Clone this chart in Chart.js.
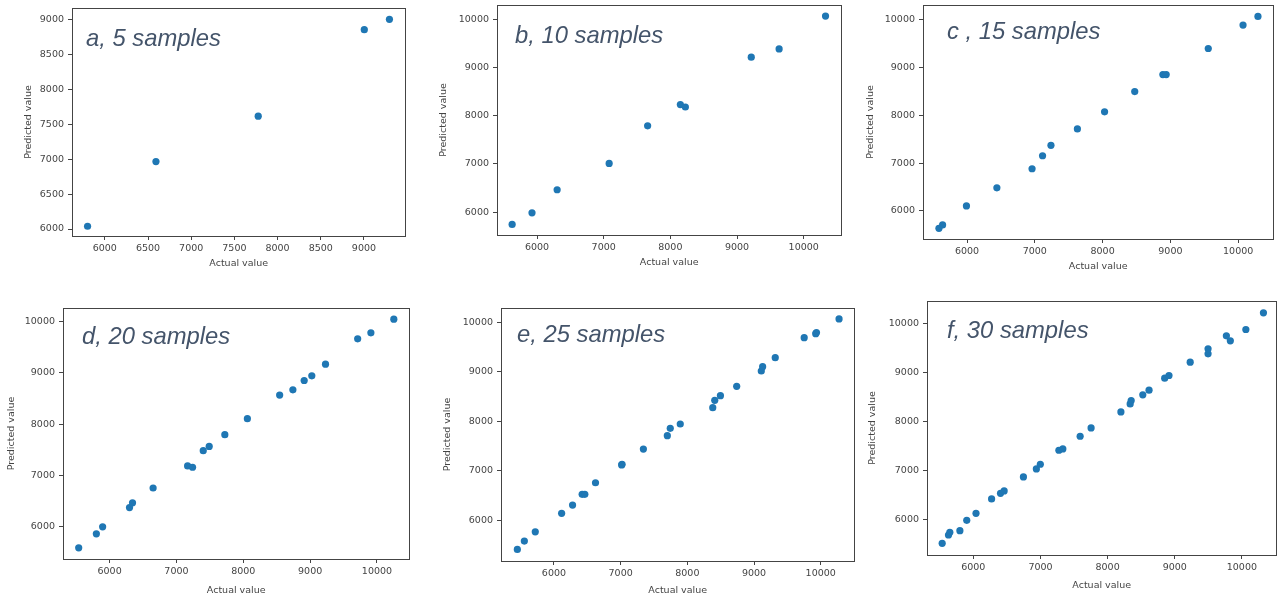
<!DOCTYPE html>
<html>
<head>
<meta charset="utf-8">
<script src="https://cdn.jsdelivr.net/npm/chart.js@4.4.1/dist/chart.umd.min.js"></script>
<style>
  body { margin: 0; background: #fff; width: 1280px; height: 600px; overflow: hidden; position: relative; }
  canvas { position: absolute; }
</style>
</head>
<body>
<canvas id="pa"></canvas>
<canvas id="pb"></canvas>
<canvas id="pc"></canvas>
<canvas id="pd"></canvas>
<canvas id="pe"></canvas>
<canvas id="pf"></canvas>
<script>
// values (actual vs predicted)
const aActual = [5800, 6592, 7776, 9004, 9295];
const aPredicted = [6040, 6967, 7618, 8859, 9007];

const bActual = [5627, 5925, 6302, 7082, 7659, 8150, 8225, 9213, 9631, 10327];
const bPredicted = [5745, 5985, 6463, 7010, 7790, 8230, 8180, 9212, 9385, 10066];

const cActual = [5585, 5639, 5991, 6440, 6959, 7114, 7238, 7628, 8029, 8474, 8889, 8938, 9559, 10072, 10292];
const cPredicted = [5636, 5706, 6105, 6483, 6882, 7155, 7372, 7716, 8073, 8498, 8853, 8853, 9399, 9889, 10071];

const dActual = [5538, 5802, 5896, 6298, 6343, 6651, 7167, 7241, 7401, 7490, 7724, 8061, 8544, 8742, 8911, 9025, 9230, 9711, 9909, 10252];
const dPredicted = [5591, 5864, 6000, 6375, 6467, 6757, 7187, 7161, 7484, 7568, 7796, 8107, 8568, 8671, 8852, 8944, 9171, 9664, 9781, 10047];

const eActual = [5451, 5556, 5720, 6115, 6279, 6423, 6463, 6623, 7015, 7021, 7341, 7700, 7744, 7894, 8381, 8411, 8496, 8740, 9109, 9129, 9318, 9752, 9925, 9936, 10275];
const ePredicted = [5407, 5575, 5763, 6136, 6304, 6520, 6520, 6755, 7115, 7128, 7437, 7707, 7856, 7943, 8273, 8423, 8516, 8706, 9016, 9103, 9285, 9690, 9770, 9792, 10069];

const fActual = [5536, 5630, 5650, 5800, 5902, 6040, 6272, 6405, 6459, 6746, 6939, 6998, 7274, 7333, 7591, 7754, 8198, 8336, 8351, 8524, 8617, 8850, 8914, 9230, 9496, 9496, 9769, 9828, 10059, 10321];
const fPredicted = [5524, 5694, 5748, 5782, 5993, 6136, 6429, 6544, 6592, 6878, 7041, 7136, 7422, 7449, 7707, 7878, 8204, 8367, 8435, 8551, 8646, 8891, 8946, 9218, 9388, 9490, 9755, 9653, 9884, 10224];

const ticksHalf = [6000, 6500, 7000, 7500, 8000, 8500, 9000];
const ticksThousand = [6000, 7000, 8000, 9000, 10000];

const TICK_SIZE = 9.5;
const TITLE_SIZE = 9.5;
const PAD_T = 10, PAD_R = 2;
const GREY = '#444';

// box = plot area in page pixels [left, top, right, bottom]
const panels = [
  { id: 'pa', label: 'a, 5 samples', x: aActual, y: aPredicted, xt: ticksHalf, yt: ticksHalf,
    xr: [5620, 9480], yr: [5900, 9170], box: [72, 8, 407, 236], yTitleX: 29, xTitleY: 263, at: [86, 46] },
  { id: 'pb', label: 'b, 10 samples', x: bActual, y: bPredicted, xt: ticksThousand, yt: ticksThousand,
    xr: [5400, 10565], yr: [5525, 10295], box: [497, 5, 843, 235], yTitleX: 444, xTitleY: 262, at: [515, 43] },
  { id: 'pc', label: 'c , 15 samples', x: cActual, y: cPredicted, xt: ticksThousand, yt: ticksThousand,
    xr: [5350, 10520], yr: [5412, 10310], box: [923, 5, 1275, 239], yTitleX: 871, xTitleY: 266, at: [947, 39] },
  { id: 'pd', label: 'd, 20 samples', x: dActual, y: dPredicted, xt: ticksThousand, yt: ticksThousand,
    xr: [5303, 10485], yr: [5373, 10265], box: [63, 308, 411, 559], yTitleX: 11.5, xTitleY: 590, at: [82, 344] },
  { id: 'pe', label: 'e, 25 samples', x: eActual, y: ePredicted, xt: ticksThousand, yt: ticksThousand,
    xr: [5206, 10505], yr: [5172, 10290], box: [501, 308, 856, 561], yTitleX: 448, xTitleY: 590, at: [517, 342] },
  { id: 'pf', label: 'f, 30 samples', x: fActual, y: fPredicted, xt: ticksThousand, yt: ticksThousand,
    xr: [5310, 10514], yr: [5286, 10465], box: [927, 301, 1278, 555], yTitleX: 872.5, xTitleY: 585, at: [947, 338] }
];

const framePlugin = {
  id: 'frame',
  afterDatasetsDraw(chart) {
    const { ctx, chartArea: a } = chart;
    ctx.save();
    ctx.strokeStyle = GREY;
    ctx.lineWidth = 1;
    ctx.strokeRect(Math.round(a.left) + 0.5, Math.round(a.top) + 0.5,
      Math.round(a.right - a.left), Math.round(a.bottom - a.top));
    ctx.restore();
  }
};

const labelPlugin = {
  id: 'panelLabel',
  afterDraw(chart, args, opts) {
    const ctx = chart.ctx;
    ctx.save();
    ctx.font = 'italic 23.8px "Liberation Sans", Arial, sans-serif';
    ctx.fillStyle = '#44546a';
    ctx.textBaseline = 'alphabetic';
    ctx.fillText(opts.text, opts.x, opts.y);
    ctx.restore();
  }
};

function axis(title, ticks, range, pad, fit) {
  return {
    type: 'linear',
    min: range[0],
    max: range[1],
    afterBuildTicks: s => { s.ticks = ticks.map(v => ({ value: v })); },
    afterFit: fit,
    grid: { display: true, drawOnChartArea: false, drawTicks: true, tickLength: 4, color: GREY },
    border: { display: false },
    ticks: {
      padding: pad, color: GREY, autoSkip: false, maxRotation: 0,
      font: { family: 'DejaVu Sans', size: TICK_SIZE },
      callback: v => String(v)
    },
    title: { display: true, text: title, color: GREY, padding: 0,
      font: { family: 'DejaVu Sans', size: TITLE_SIZE } }
  };
}

function makeChart(p) {
  const [L, T, R, B] = p.box;
  const half = TITLE_SIZE * 1.2 / 2;
  const left = Math.round(p.yTitleX - half);
  const top = T - PAD_T;
  const bottom = Math.round(p.xTitleY + half);
  const yw = L - left;
  const xh = bottom - B;
  const cv = document.getElementById(p.id);
  cv.width = R + PAD_R - left;
  cv.height = bottom - top;
  cv.style.left = left + 'px';
  cv.style.top = top + 'px';

  new Chart(cv, {
    type: 'scatter',
    data: {
      datasets: [{
        data: p.x.map((v, i) => ({ x: v, y: p.y[i] })),
        backgroundColor: '#1f77b4',
        borderWidth: 0,
        pointRadius: 3.6,
        pointHoverRadius: 3.6
      }]
    },
    options: {
      responsive: false,
      animation: false,
      devicePixelRatio: 1,
      layout: { padding: { top: PAD_T, right: PAD_R, left: 0, bottom: 0 } },
      plugins: {
        legend: { display: false },
        tooltip: { enabled: false },
        panelLabel: { text: p.label, x: p.at[0] - left, y: p.at[1] - top }
      },
      scales: {
        x: axis('Actual value', p.xt, p.xr, 3, s => { s.height = xh; }),
        y: axis('Predicted value', p.yt, p.yr, 4, s => { s.width = yw; })
      }
    },
    plugins: [framePlugin, labelPlugin]
  });
}

panels.forEach(makeChart);
</script>
</body>
</html>
